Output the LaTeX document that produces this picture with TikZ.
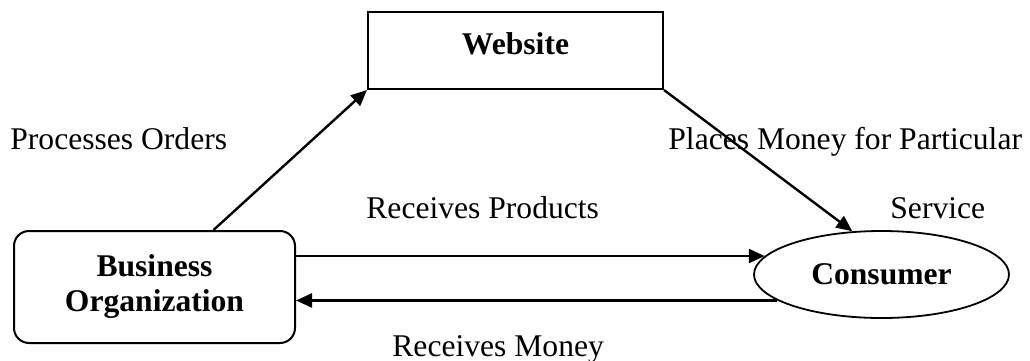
\documentclass[tikz,border=0pt]{standalone}
\usepackage{fontspec}
\setmainfont{Liberation Serif}
\usetikzlibrary{arrows.meta}
\usetikzlibrary{shapes.geometric}
\usetikzlibrary{positioning}
\newcommand{\txt}{\fontsize{15.8}{17.5}\selectfont}
\tikzset{
  caixa/.style={draw, line width=1pt, align=center, minimum width=#1, inner sep=0pt, font=\txt\bfseries},
  caixa/.default=140pt,
  oval/.style={draw, ellipse, line width=0.9pt, inner sep=0pt, minimum width=127.5pt, minimum height=43.5pt, font=\txt\bfseries},
  seta/.style={-{Triangle[length=8pt,width=7pt]}, line width=1.2pt},
  rotulo/.style={inner sep=0pt, anchor=base west, font=\txt},
}

\begin{document}
\begin{tikzpicture}[x=0.5pt, y=-0.5pt]
  \useasboundingbox (0,0) rectangle (1030,360);

  \node[caixa=147.5pt, minimum height=38.5pt, text depth=7pt] (site) at (515.5,50.5) {Website};
  \node[caixa=140.5pt, minimum height=56pt, rounded corners=7.5pt] (org) at (154.5,287) {Business\\Organization};
  \node[oval] (cons) at (881.5,274.5) {Consumer};

  \draw[seta] (org.44) -- (site.south west);
  \draw[seta] (site.south east) -- (cons.124);
  \draw[seta] (org.east |- cons.171) -- (cons.171);
  \draw[seta] (cons.194) -- (org.east |- cons.194);

  \node[rotulo] (proc) at (10,149) {Processes Orders};
  \node[rotulo] (place) at (668,149) {Places Money for Particular};
  \node[rotulo] (serv) at (890,218) {Service};
  \node[rotulo] (prod) at (366,218) {Receives Products};
  \node[rotulo] (money) at (392,356) {Receives Money};
\end{tikzpicture}
\end{document}
